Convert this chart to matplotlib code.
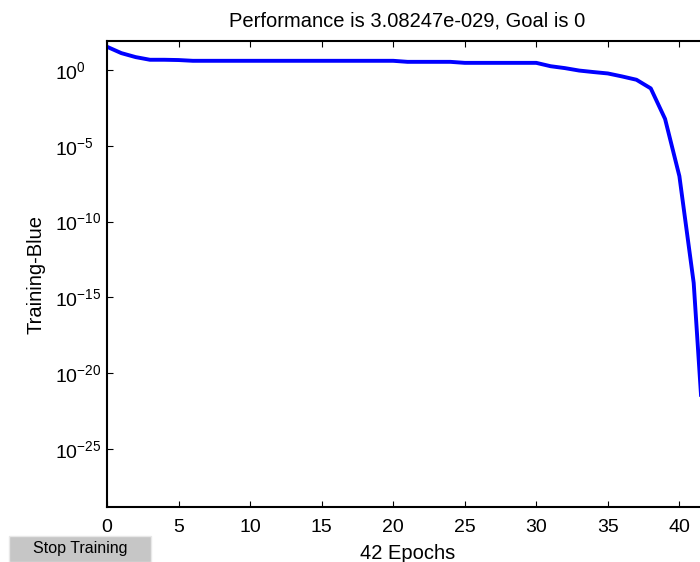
import matplotlib
matplotlib.use("Agg")
import matplotlib.pyplot as plt
from matplotlib.patches import Rectangle
import numpy as np

plt.rcParams['font.family'] = ['Liberation Sans', 'DejaVu Sans']
plt.rcParams['mathtext.fontset'] = 'custom'
plt.rcParams['mathtext.rm'] = 'Liberation Sans'

# datos
epocas = list(range(0, 43))
rendimiento = [34.7, 13.2, 7.2, 4.8, 4.8, 4.6, 4.1, 4.1, 4.1, 4.1,
               4.1, 4.1, 4.1, 4.1, 4.1, 4.1, 4.1, 4.1, 4.1, 4.1,
               4.1, 3.5, 3.5, 3.5, 3.5, 3.0, 3.0, 3.0, 3.0, 3.0,
               3.0, 1.8, 1.35, 0.93, 0.74, 0.60, 0.38, 0.23, 0.062, 6.0e-4,
               1.0e-7, 9e-15, 3.08247e-29]
yticks = [1e0, 1e-5, 1e-10, 1e-15, 1e-20, 1e-25]
xticks = [0, 5, 10, 15, 20, 25, 30, 35, 40]

fig = plt.figure(figsize=(7, 5.62), dpi=100)
ax = fig.add_axes([107/700, 1 - 507/562, 601/700, 466/562])

ax.semilogy(epocas, rendimiento, color="#0000ff", linewidth=2.8)

ax.set_xlim(0, 42)
ax.set_ylim(10**-28.84, 10**1.92)
ax.set_xticks(xticks)
ax.set_yticks(yticks)
ax.yaxis.set_minor_locator(matplotlib.ticker.NullLocator())
ax.tick_params(direction="in", length=4, width=0.8, top=True, right=True,
               labelsize=14)
ax.tick_params(axis="x", pad=8.5)
ax.tick_params(axis="y", pad=37.5)
plt.setp(ax.get_yticklabels(), ha="left")
for s in ax.spines.values():
    s.set_linewidth(1.5)

ax.set_title("Performance is 3.08247e-029, Goal is 0", fontsize=14.5, pad=10.5)
ax.set_xlabel("42 Epochs", fontsize=14.5, labelpad=6)
ax.set_ylabel("Training-Blue", fontsize=14.5)
ax.yaxis.set_label_coords(-0.103, 0.5)

# boton de parar
fig.patches.append(Rectangle((9/700, 0), 142/700, 26/562, transform=fig.transFigure,
                             facecolor="#c6c6c6", edgecolor="#e8e8e8", linewidth=1))
fig.text(80/700, 1 - 549/562, "Stop Training", ha="center", va="center", fontsize=11.5)

plt.savefig("out.png")
